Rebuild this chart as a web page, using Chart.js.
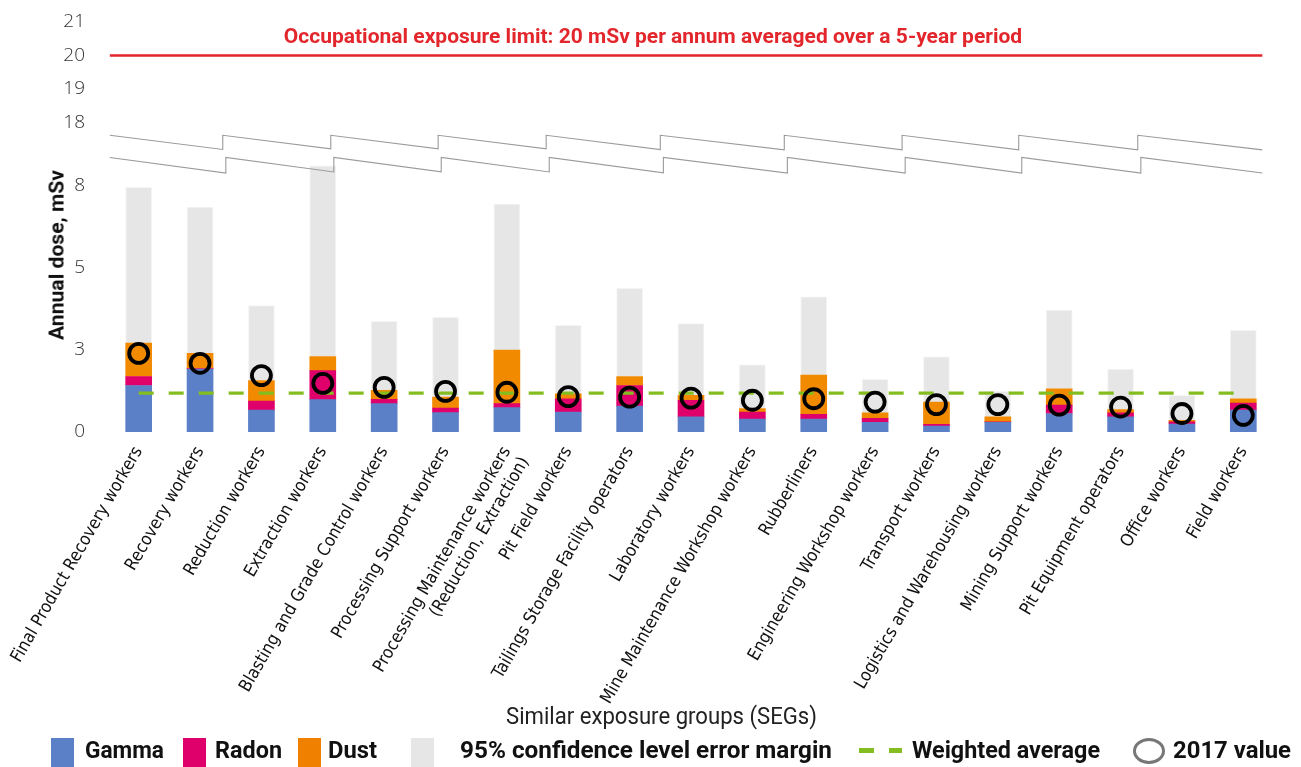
<!DOCTYPE html>
<html>
<head>
<meta charset="utf-8">
<script src="https://cdn.jsdelivr.net/npm/chart.js@4.4.1/dist/chart.umd.min.js"></script>
<style>
  html, body { margin: 0; padding: 0; background: #fff; }
  #wrap { position: relative; width: 1301px; height: 767px; overflow: hidden; }
  #c { position: absolute; left: 0; top: 0; }
  .t { position: absolute; white-space: nowrap; font-family: Roboto, 'Noto Sans', sans-serif; color: #111; transform-origin: 0 50%; }
  .lg { font-weight: 700; font-size: 23px; top: 736px; line-height: 30px; }
  .sw { position: absolute; top: 738px; width: 23px; height: 29px; }
</style>
</head>
<body>
<div id="wrap">
  <canvas id="c" width="1301" height="767"></canvas>
  <div class="t fit" data-w="170" data-rot="1" id="ytitle" style="font-weight:700; font-size:21px;">Annual dose, mSv</div>
  <div class="t fit" data-w="311" style="left:506px; top:703px; font-size:23px; line-height:28px; color:#222;">Similar exposure groups (SEGs)</div>

  <div class="sw" style="left:51px; background:#5b80c8;"></div>
  <div class="t lg fit" data-w="79" style="left:85px;">Gamma</div>
  <div class="sw" style="left:183px; background:#e0006c;"></div>
  <div class="t lg fit" data-w="67" style="left:215px;">Radon</div>
  <div class="sw" style="left:298px; background:#f08000;"></div>
  <div class="t lg fit" data-w="49" style="left:328px;">Dust</div>
  <div class="sw" style="left:411px; background:#e6e6e6;"></div>
  <div class="t lg fit" data-w="372" style="left:460px;">95% confidence level error margin</div>
  <div style="position:absolute; left:859px; top:748px; width:15px; height:5px; background:#84bd20;"></div>
  <div style="position:absolute; left:889px; top:748px; width:13px; height:5px; background:#84bd20;"></div>
  <div class="t lg fit" data-w="188" style="left:912px;">Weighted average</div>
  <div style="position:absolute; left:1133px; top:738px; width:26px; height:20px; border:3.5px solid #777; border-radius:50%;"></div>
  <div class="t lg fit" data-w="118" style="left:1173px;">2017 value</div>
</div>
<script>
// ---- data ----
const categories = [
  'Final Product Recovery workers', 'Recovery workers', 'Reduction workers', 'Extraction workers',
  'Blasting and Grade Control workers', 'Processing Support workers',
  ['Processing Maintenance workers', '(Reduction, Extraction)'], 'Pit Field workers',
  'Tailings Storage Facility operators', 'Laboratory workers', 'Mine Maintenance Workshop workers',
  'Rubberliners', 'Engineering Workshop workers', 'Transport workers',
  'Logistics and Warehousing workers', 'Mining Support workers', 'Pit Equipment operators',
  'Office workers', 'Field workers'
];
const gamma  = [1.51, 2.04, 0.71, 1.05, 0.92, 0.63, 0.79, 0.65, 0.84, 0.49, 0.42, 0.42, 0.31, 0.19, 0.31, 0.60, 0.49, 0.26, 0.71];
const radon  = [0.29, 0.02, 0.29, 0.94, 0.14, 0.15, 0.13, 0.43, 0.67, 0.54, 0.23, 0.15, 0.13, 0.06, 0.02, 0.27, 0.13, 0.07, 0.23];
const dust   = [1.09, 0.49, 0.67, 0.46, 0.29, 0.35, 1.74, 0.16, 0.29, 0.16, 0.11, 1.28, 0.18, 0.72, 0.16, 0.53, 0.11, 0.05, 0.14];
const errorMargin = [5.05, 4.75, 2.43, 6.19, 2.24, 2.59, 4.74, 2.22, 2.86, 2.33, 1.42, 2.54, 1.09, 1.47, 0.83, 2.56, 1.31, 0.81, 2.22];
const value2017 = [2.55, 2.23, 1.83, 1.58, 1.45, 1.32, 1.29, 1.15, 1.13, 1.10, 1.03, 1.08, 0.97, 0.89, 0.89, 0.87, 0.81, 0.60, 0.54];
const weightedAverage = 1.26;
const exposureLimit = 20;
const limitText = 'Occupational exposure limit: 20 mSv per annum averaged over a 5-year period';
// y-axis tick values (mSv) and their printed labels
const yTickValues = [0, 8 / 3, 16 / 3, 8, 18, 19, 20, 21];
const yTickLabels = ['0', '3', '5', '8', '18', '19', '20', '21'];

// broken axis: upper segment (18..21) is placed just above the lower one
const BREAK_FROM = 18, BREAK_POS = 10.05, UPPER_STEP = 1.087;
function axisPos(v) { return v <= 9 ? v : BREAK_POS + (v - BREAK_FROM) * UPPER_STEP; }

// decorative break zig-zag (category-index positions of the steps)
const breakSteps = [1.37, 3.13, 4.88, 6.64, 8.5, 10.52, 12.44, 14.34, 16.28];
const lineStart = -0.47, lineEnd = 18.31;

const breakPlugin = {
  id: 'breaks',
  afterDatasetsDraw(chart) {
    const { ctx, scales: { x, y } } = chart;
    const drawZig = (yTop, yBot, shift) => {
      const xs = [lineStart, ...breakSteps.map(s => s + shift), lineEnd];
      ctx.beginPath();
      for (let i = 0; i < xs.length - 1; i++) {
        const x0 = x.getPixelForValue(xs[i]);
        const x1 = x.getPixelForValue(xs[i + 1]);
        const frac = (xs[i + 1] - xs[i]) / 1.8;
        const yb = yTop - (yTop - yBot) * Math.min(frac, 1.05);
        if (i === 0) ctx.moveTo(x0, y.getPixelForValue(yTop));
        else ctx.lineTo(x0, y.getPixelForValue(yTop));
        ctx.lineTo(x1, y.getPixelForValue(yb));
      }
      ctx.stroke();
    };
    ctx.save();
    ctx.strokeStyle = '#9a9a9a';
    ctx.lineWidth = 1.1;
    drawZig(9.63, 9.18, 0);
    drawZig(8.91, 8.43, 0.05);
    // exposure limit line + label
    const yl = y.getPixelForValue(axisPos(exposureLimit));
    ctx.strokeStyle = '#e3262b';
    ctx.lineWidth = 2.5;
    ctx.beginPath();
    ctx.moveTo(x.getPixelForValue(lineStart), yl);
    ctx.lineTo(x.getPixelForValue(lineEnd), yl);
    ctx.stroke();
    ctx.fillStyle = '#e3262b';
    ctx.font = "700 21px Roboto, 'Noto Sans', sans-serif";
    ctx.textAlign = 'center';
    ctx.textBaseline = 'alphabetic';
    ctx.fillText(limitText, 653, yl - 12, 742);
    ctx.restore();
  }
};

const ctx = document.getElementById('c').getContext('2d');
new Chart(ctx, {
  data: {
    labels: categories,
    datasets: [
      { type: 'line', label: 'Weighted average', data: categories.map(() => weightedAverage), stack: 'avg',
        borderColor: '#84bd20', borderWidth: 3.2, borderDash: [15, 15], pointRadius: 0, fill: false, order: 1 },
      { type: 'line', label: '2017 value', data: value2017, stack: 'v17', showLine: false,
        pointStyle: 'circle', pointRadius: 9.5, pointBorderWidth: 3.8, pointBorderColor: '#000',
        pointBackgroundColor: 'rgba(0,0,0,0)', order: 0 },
      { type: 'bar', label: 'Gamma', data: gamma, backgroundColor: '#5b80c8', stack: 's', order: 5 },
      { type: 'bar', label: 'Radon', data: radon, backgroundColor: '#e0006c', stack: 's', order: 5 },
      { type: 'bar', label: 'Dust', data: dust, backgroundColor: '#f28a00', stack: 's', order: 5 },
      { type: 'bar', label: '95% confidence level error margin', data: errorMargin, backgroundColor: '#e6e6e6',
        borderColor: '#f4f4f4', borderWidth: 1, stack: 's', order: 5 }
    ]
  },
  options: {
    responsive: false,
    animation: false,
    devicePixelRatio: 1,
    layout: { padding: { top: 8, right: 27, left: 0, bottom: 0 } },
    datasets: { bar: { barThickness: 26 } },
    plugins: { legend: { display: false }, tooltip: { enabled: false } },
    scales: {
      x: {
        stacked: true,
        offset: true,
        grid: { display: false },
        border: { display: false },
        ticks: {
          autoSkip: false, minRotation: 60, maxRotation: 60, padding: 3,
          color: '#111',
          font: { family: "'Liberation Sans Narrow', 'DejaVu Sans Condensed', 'Roboto', sans-serif", size: 17.5 }
        },
        afterFit(scale) { scale.height = 335; scale.paddingLeft = 0; scale.paddingRight = 0; }
      },
      y: {
        stacked: true,
        min: 0,
        max: 13.59,
        grid: { display: false },
        border: { display: false },
        afterBuildTicks(scale) { scale.ticks = yTickValues.map(v => ({ value: axisPos(v) })); },
        ticks: {
          padding: 15,
          color: '#333',
          font: { family: "'Open Sans', 'Noto Sans', sans-serif", size: 19, weight: 300 },
          callback(value, index) { return yTickLabels[index]; }
        },
        afterFit(scale) { scale.width = 108; scale.paddingTop = 0; scale.paddingBottom = 0; }
      }
    }
  },
  plugins: [breakPlugin]
});

// fit HTML texts to the widths measured on the reference
function fitAll() {
  document.querySelectorAll('.fit').forEach(el => {
    const target = +el.dataset.w;
    el.style.transform = 'none';
    const w = el.getBoundingClientRect().width;
    const s = target / w;
    if (el.dataset.rot) {
      el.style.transformOrigin = '50% 50%';
      const h = el.getBoundingClientRect().height;
      el.style.left = (57 - w / 2) + 'px';
      el.style.top = (255 - h / 2) + 'px';
      el.style.transform = 'rotate(-90deg) scaleX(' + s + ')';
    } else {
      el.style.transform = 'scaleX(' + s + ')';
    }
  });
}
fitAll();
if (document.fonts && document.fonts.ready) document.fonts.ready.then(fitAll);
</script>
</body>
</html>
